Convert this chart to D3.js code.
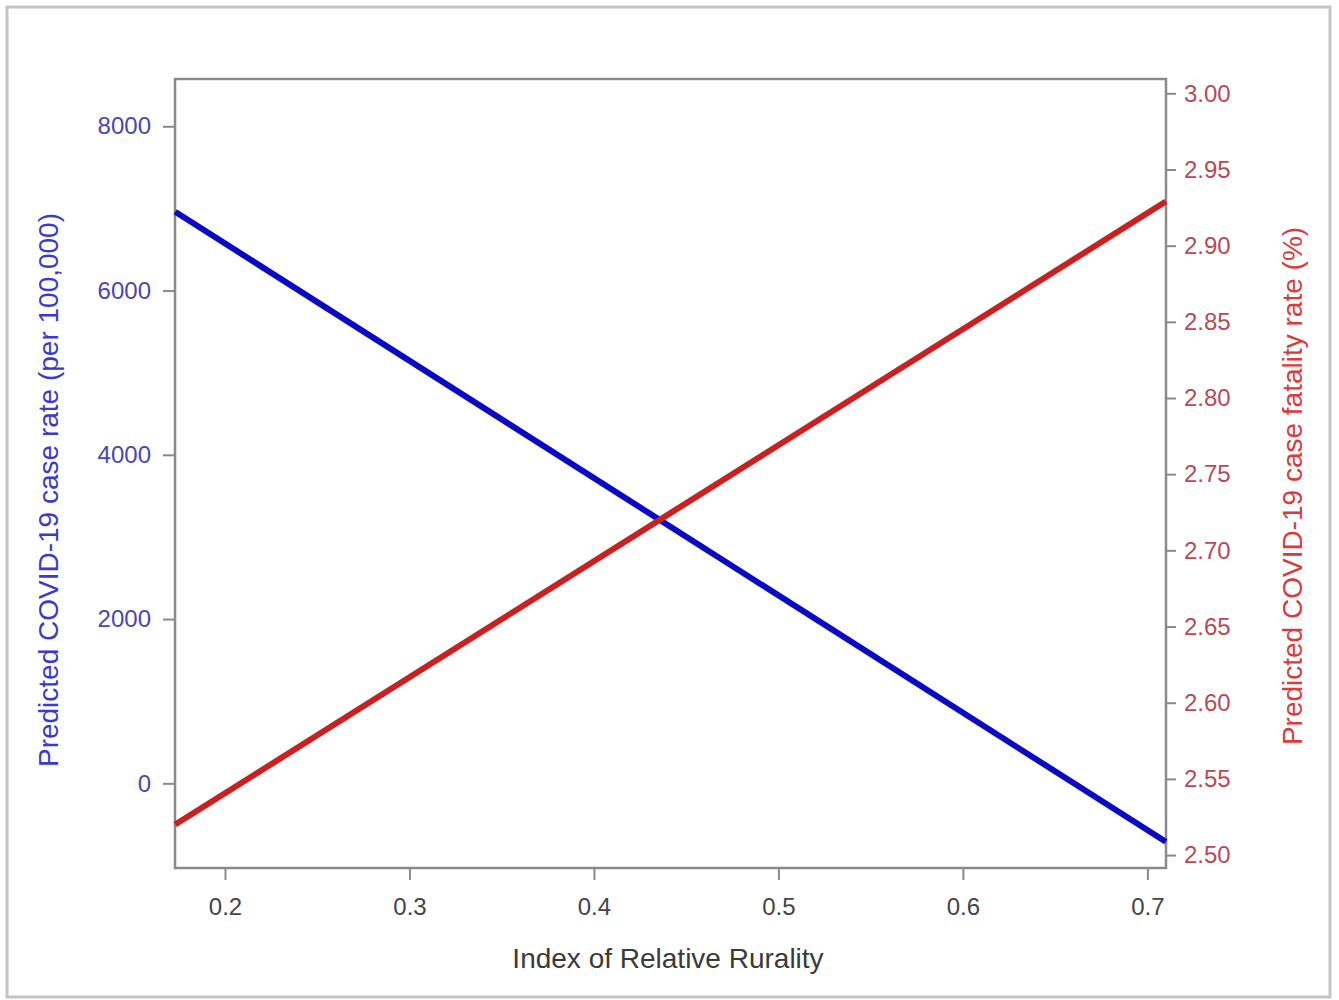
<!DOCTYPE html>
<html><head><meta charset="utf-8">
<script src="https://cdn.jsdelivr.net/npm/d3@7"></script>
<style>body{margin:0;background:#fff;font-family:"Liberation Sans",Arial,sans-serif;}</style>
</head><body><svg id="c" width="1339" height="1000"></svg>
<script>
// Data
const rurality = [0.173, 0.71];
const caseRate = [6960, -711];
const fatalityRate = [2.520, 2.929];
const xTicks = [0.2, 0.3, 0.4, 0.5, 0.6, 0.7];
const leftTicks = [0, 2000, 4000, 6000, 8000];
const rightTicks = [2.50, 2.55, 2.60, 2.65, 2.70, 2.75, 2.80, 2.85, 2.90, 2.95, 3.00];

const svg = d3.select("#c");
const m = {l:175, t:79, r:1166, b:868};
svg.append("rect").attr("x",7).attr("y",7).attr("width",1323).attr("height",990)
  .attr("fill","#fff").attr("stroke","#c4c4c4").attr("stroke-width",3);

const x = d3.scaleLinear().domain([0.1729, 0.7101]).range([m.l, m.r]);
const yL = d3.scaleLinear().domain([-1031, 8576]).range([m.b, m.t]);
const yR = d3.scaleLinear().domain([2.4915, 3.0094]).range([m.b, m.t]);

const axColor = "#8a8a8a";
function style(g, col, fs){
  g.select(".domain").remove();
  g.selectAll(".tick line").attr("stroke", axColor).attr("stroke-width",2);
  g.selectAll(".tick text").attr("fill", col).style("font-size",fs).style("font-family","'Liberation Sans',Arial,sans-serif");
}
const gx = svg.append("g").attr("transform",`translate(0,${m.b})`)
  .call(d3.axisBottom(x).tickValues(xTicks).tickFormat(d3.format(".1f")).tickSizeOuter(0).tickSize(12).tickPadding(18));
style(gx, "#454545", "24px");
const gl = svg.append("g").attr("transform",`translate(${m.l},0)`)
  .call(d3.axisLeft(yL).tickValues(leftTicks).tickFormat(d3.format("d")).tickSizeOuter(0).tickSize(12).tickPadding(12));
style(gl, "#4848b4", "24px");
const gr = svg.append("g").attr("transform",`translate(${m.r},0)`)
  .call(d3.axisRight(yR).tickValues(rightTicks).tickFormat(d3.format(".2f")).tickSizeOuter(0).tickSize(10).tickPadding(8));
style(gr, "#b84a58", "24px");

svg.append("rect").attr("x",m.l).attr("y",m.t).attr("width",m.r-m.l).attr("height",m.b-m.t)
  .attr("fill","none").attr("stroke",axColor).attr("stroke-width",2.5);

const blue = rurality.map((r,i)=>[r, caseRate[i]]);
const red = rurality.map((r,i)=>[r, fatalityRate[i]]);
svg.append("path").datum(blue).attr("fill","none").attr("stroke","#0a0ac4").attr("stroke-width",6)
  .attr("d", d3.line().x(d=>x(d[0])).y(d=>yL(d[1])));
svg.append("path").datum(red).attr("fill","none").attr("stroke","#cc2020").attr("stroke-width",6)
  .attr("d", d3.line().x(d=>x(d[0])).y(d=>yR(d[1])));

svg.append("text").attr("x",668).attr("y",968).attr("text-anchor","middle")
  .attr("fill","#3a3a3a").style("font-size","28px").text("Index of Relative Rurality");
svg.append("text").attr("transform","translate(58,490) rotate(-90)").attr("text-anchor","middle")
  .attr("fill","#3a3ad0").style("font-size","28px").text("Predicted COVID-19 case rate (per 100,000)");
svg.append("text").attr("transform","translate(1302,486) rotate(-90)").attr("text-anchor","middle")
  .attr("fill","#d83c3c").style("font-size","28px").text("Predicted COVID-19 case fatality rate (%)");
</script></body></html>
